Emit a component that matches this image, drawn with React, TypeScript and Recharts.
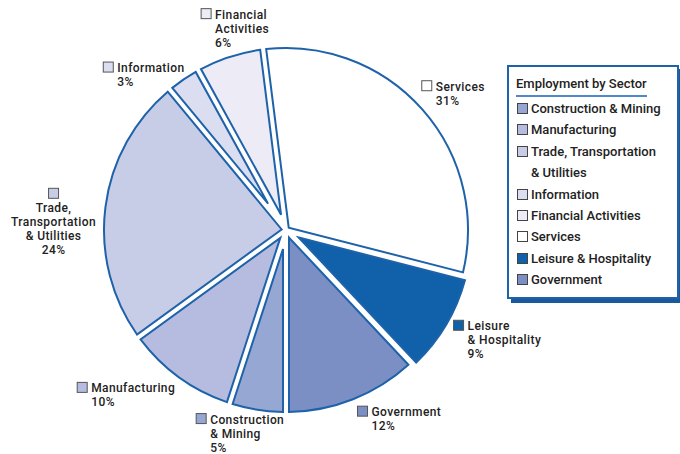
import { PieChart, Pie, Cell, Legend } from 'recharts'

const sectors = ['Services', 'Leisure & Hospitality', 'Government', 'Construction & Mining', 'Manufacturing', 'Trade, Transportation & Utilities', 'Information', 'Financial Activities']
const shares = [31, 9, 12, 5, 10, 24, 3, 6]
const labelLines = [
  ['Services'],
  ['Leisure', '& Hospitality'],
  ['Government'],
  ['Construction', '& Mining'],
  ['Manufacturing'],
  ['Trade,', 'Transportation', '& Utilities'],
  ['Information'],
  ['Financial', 'Activities'],
]
const legendOrder = ['Construction & Mining', 'Manufacturing', 'Trade, Transportation & Utilities', 'Information', 'Financial Activities', 'Services', 'Leisure & Hospitality', 'Government']
const legendLines: Record<string, string[]> = {
  'Trade, Transportation & Utilities': ['Trade, Transportation', '& Utilities'],
}

const colors = ['#ffffff', '#1061a9', '#7b8fc5', '#96a7d3', '#b5bcdf', '#c8cde7', '#dbddf0', '#ecebf6']
const explode = [0, 4, 0, 0, 0, 0, 0, 0]
// square top-left offset from the point just outside each slice
const labelNudge = [[-12, -19], [-2, -10], [-1, -7], [-59, -11], [-93, -7], [-42, -17], [-72, -5], [-24, -34]]

const data = sectors.map((name, i) => ({ name, value: shares[i] }))

const BLUE = '#1e62a9'
const FONT = 'Roboto, "DejaVu Sans", sans-serif'
const RAD = Math.PI / 180
const GAP = 3
const LINE = 14

function ExplodedSector(props: any) {
  const { cx, cy, outerRadius, fill, index } = props
  let a1 = props.startAngle
  let a2 = props.endAngle
  if (a1 < a2) [a1, a2] = [a2, a1]
  const r = outerRadius
  const mid = (a1 + a2) / 2
  const half = ((a1 - a2) / 2) * RAD
  const d = explode[index] || 0
  const ox = cx + d * Math.cos(mid * RAD)
  const oy = cy - d * Math.sin(mid * RAD)
  const apex = GAP / Math.sin(half)
  const ax = ox + apex * Math.cos(mid * RAD)
  const ay = oy - apex * Math.sin(mid * RAD)
  const t = Math.sqrt(r * r - GAP * GAP)
  const c1 = Math.cos(a1 * RAD), s1 = Math.sin(a1 * RAD)
  const c2 = Math.cos(a2 * RAD), s2 = Math.sin(a2 * RAD)
  const p1x = ox + GAP * s1 + t * c1
  const p1y = oy - (-GAP * c1 + t * s1)
  const p2x = ox - GAP * s2 + t * c2
  const p2y = oy - (GAP * c2 + t * s2)
  const large = a1 - a2 > 180 ? 1 : 0
  const path = `M${ax},${ay} L${p1x},${p1y} A${r},${r} 0 ${large} 1 ${p2x},${p2y} Z`
  return <path d={path} fill={fill} stroke={BLUE} strokeWidth={2} strokeLinejoin="miter" />
}

function SliceLabel(props: any) {
  const { cx, cy, midAngle, outerRadius, index } = props
  const rr = outerRadius + 15
  const x = cx + rr * Math.cos(-midAngle * RAD) + labelNudge[index][0]
  const y = cy + rr * Math.sin(-midAngle * RAD) + labelNudge[index][1]
  const lines = [...labelLines[index], `${shares[index]}%`]
  const centered = index === 5
  return (
    <g fontFamily={FONT} fontSize={12} fontWeight={500} fill="#222" letterSpacing={0.4}>
      <rect x={x} y={y} width={10} height={10} fill={colors[index]} stroke="#555" strokeWidth={1} />
      {lines.map((ln, k) =>
        centered ? (
          <text key={k} x={x + 5} y={y + 24 + k * LINE} textAnchor="middle">{ln}</text>
        ) : (
          <text key={k} x={x + 14} y={y + 10 + k * LINE}>{ln}</text>
        )
      )}
    </g>
  )
}

function SectorLegend() {
  return (
    <div style={{ width: 161, height: 224, border: `2px solid ${BLUE}`, boxShadow: `4px 4px 0 #1a5a9c`, background: '#fff', padding: '6px 0 0 7px', boxSizing: 'content-box', fontFamily: FONT, fontWeight: 500, color: '#222', textAlign: 'left' }}>
      <div style={{ display: 'inline-block', fontSize: 13, lineHeight: '18px', borderBottom: '2px solid #4f89c7', paddingBottom: 2 }}>Employment by Sector</div>
      <div style={{ marginTop: 1 }}>
        {legendOrder.map((name) => {
          const i = sectors.indexOf(name)
          const lines = legendLines[name] || [name]
          return (
            <div key={name} style={{ fontSize: 13, lineHeight: '21.4px', position: 'relative', paddingLeft: 15, whiteSpace: 'nowrap' }}>
              <span style={{ position: 'absolute', left: 1, top: 5, width: 9, height: 9, background: colors[i], border: '1px solid #444' }} />
              {lines.map((ln) => <div key={ln}>{ln}</div>)}
            </div>
          )
        })}
      </div>
    </div>
  )
}

export default function App() {
  return (
    <div style={{ width: 680, height: 454, background: '#fff' }}>
      <style>{'body{margin:0}'}</style>
      <PieChart width={680} height={454}>
        <Pie
          data={data}
          dataKey="value"
          nameKey="name"
          cx={281}
          cy={225}
          outerRadius={182}
          startAngle={97.2}
          endAngle={-262.8}
          shape={ExplodedSector}
          activeShape={ExplodedSector}
          inactiveShape={ExplodedSector}
          label={SliceLabel}
          labelLine={false}
          isAnimationActive={false}
        >
          {data.map((d, i) => <Cell key={d.name} fill={colors[i]} />)}
        </Pie>
        <Legend content={<SectorLegend />} layout="vertical" align="right" verticalAlign="top" wrapperStyle={{ left: 507, top: 65, right: 'auto', width: 'auto' }} />
      </PieChart>
    </div>
  )
}
